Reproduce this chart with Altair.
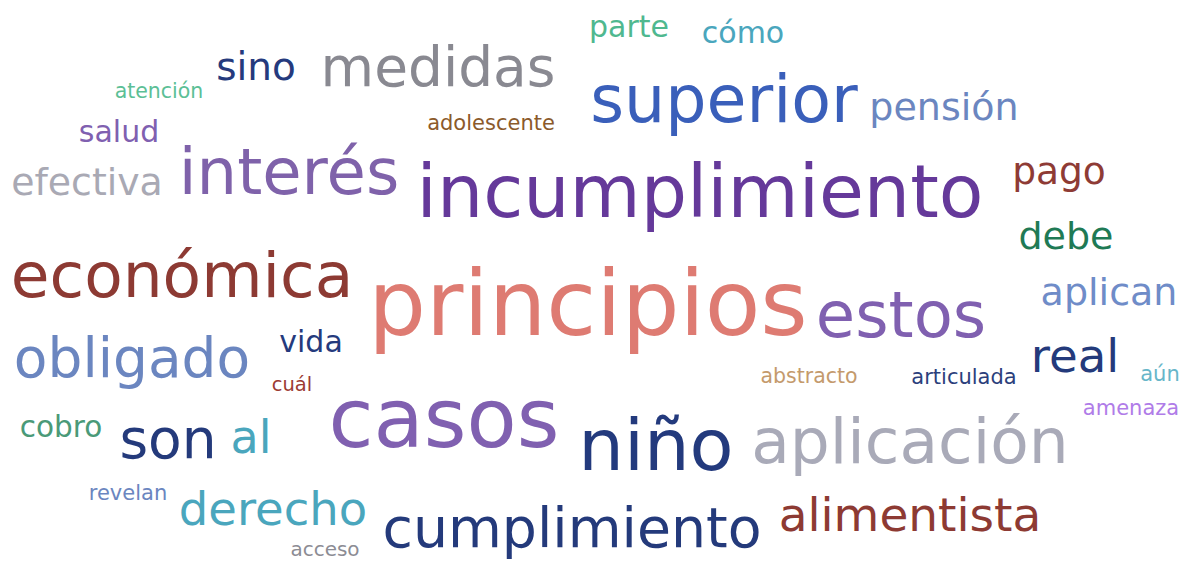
import altair as alt
import pandas as pd

words = ["principios", "incumplimiento", "casos", "niño", "aplicación", "económica",
         "interés", "estos", "superior", "medidas", "cumplimiento", "obligado",
         "son", "alimentista", "derecho", "al", "real", "sino", "pago", "debe",
         "aplican", "pensión", "efectiva", "parte", "cómo", "salud", "vida",
         "cobro", "atención", "adolescente", "cuál", "abstracto", "articulada",
         "aún", "amenaza", "revelan", "acceso"]

# layout position of each word (centre x, baseline y) in the cloud's pixel space
col = [588, 700, 444, 656, 910, 182, 289, 901, 724, 438, 572, 132,
       168, 910, 273, 251, 1075, 256, 1059, 1066,
       1109, 944, 87, 629, 743, 119, 311,
       61, 159, 491, 292, 809, 964,
       1160, 1131, 128, 325]
row = [335, 217, 447, 470, 463, 297, 194, 337, 122, 86, 547, 377,
       458, 531, 525, 453, 372, 80, 184, 249,
       305, 120, 195, 37, 43, 142, 352,
       437, 98, 130, 391, 383, 384,
       381, 415, 500, 556]
# relative frequency weight, drawn as font size
weight = [91, 73, 82, 72, 63, 63, 64, 64, 65, 55, 55.3, 55,
          55, 47, 46.5, 46, 46.7, 39, 37.6, 38,
          38, 38, 37.8, 30, 30, 30, 30,
          29.5, 20.5, 21, 19.5, 20.5, 21,
          21, 21, 21, 20]
colors = ["#de7b72", "#65399a", "#8060b0", "#233a7d", "#a9aab8", "#8d3a33",
          "#7f62aa", "#8060b0", "#3a5fba", "#898991", "#243a7b", "#6b86c0",
          "#243a7b", "#8d3a33", "#4aa6bd", "#4aa6bd", "#243a7b", "#253a7d", "#8e3b35", "#1f7a55",
          "#6f8cc8", "#6b86c0", "#a9a9b4", "#4fb88f", "#4aa6bd", "#8060b0", "#253a7d",
          "#4a9a78", "#5cbf96", "#8b5a2b", "#9b3a33", "#c49a6c", "#2c3f7c",
          "#67b6c9", "#b07ce8", "#6b86c0", "#8c8c94"]

df = pd.DataFrame({"word": words, "col": col, "row": row, "weight": weight, "color": colors})

W, H = 1172, 552

chart = alt.Chart(df).mark_text(
    font="DejaVu Sans", align="center", baseline="alphabetic"
).encode(
    x=alt.X("col:Q", scale=alt.Scale(domain=[8, 8 + W], zero=False, nice=False), axis=None),
    y=alt.Y("row:Q", scale=alt.Scale(domain=[8, 8 + H], zero=False, nice=False, reverse=True), axis=None),
    size=alt.Size("weight:Q", scale=None, legend=None),
    color=alt.Color("color:N", scale=None, legend=None),
    text="word:N",
).properties(
    width=W, height=H, padding=0,
    autosize=alt.AutoSizeParams(type="none"),
).configure_view(stroke=None)

chart.save("out.html", embed_options={"renderer": "svg", "actions": False})
